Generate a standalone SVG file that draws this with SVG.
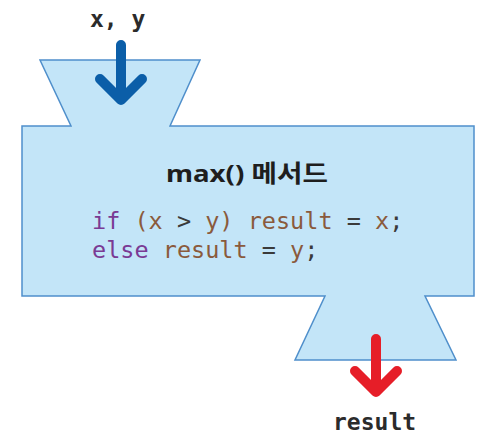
<svg xmlns="http://www.w3.org/2000/svg" width="480" height="436" viewBox="0 0 480 436">
<style>
.shape{fill:#c3e5f8;stroke:#4f8fcb;stroke-width:1.5;stroke-linejoin:miter}
.mono{font-family:"DejaVu Sans Mono","Liberation Mono",monospace;font-weight:bold;font-size:23px;fill:#2b2b2b}
.code{font-family:"DejaVu Sans Mono","Liberation Mono",monospace;font-size:23.5px;fill:#8a5a3c}
.kw{fill:#7a3a94}
.op{fill:#3a3a3a}
.title{font-family:"Noto Sans","Noto Sans CJK KR",sans-serif;font-weight:bold;font-size:24px;fill:#1e1e1e}
.arr{fill:none;stroke-width:10;stroke-linecap:round;stroke-linejoin:round}
</style>
<g id="method">
<polygon class="shape" points="40,60 200,60 170,126 474,126 474,296 425,296 456,360 295,360 325,296 22,296 22,126 71,126"/>
<text class="title" x="166" y="182" textLength="162" lengthAdjust="spacingAndGlyphs">max() 메서드</text>
<text class="code" x="92" y="229"><tspan class="kw">if</tspan> (x <tspan class="op">&gt;</tspan> y) result <tspan class="op">=</tspan> x<tspan class="op">;</tspan></text>
<text class="code" x="92" y="258"><tspan class="kw">else</tspan> result <tspan class="op">=</tspan> y<tspan class="op">;</tspan></text>
</g>
<g id="input">
<text class="mono" x="90" y="27">x, y</text>
</g>
<g id="output">
<text class="mono" x="333" y="430">result</text>
</g>
<g id="connectors">
<path class="arr" stroke="#0b5ea8" d="M121,45 V100 M100,79 L121,100 L142,79"/>
<path class="arr" stroke="#e61e28" d="M376,339 V392 M355,371 L376,392 L397,371"/>
</g>
</svg>
